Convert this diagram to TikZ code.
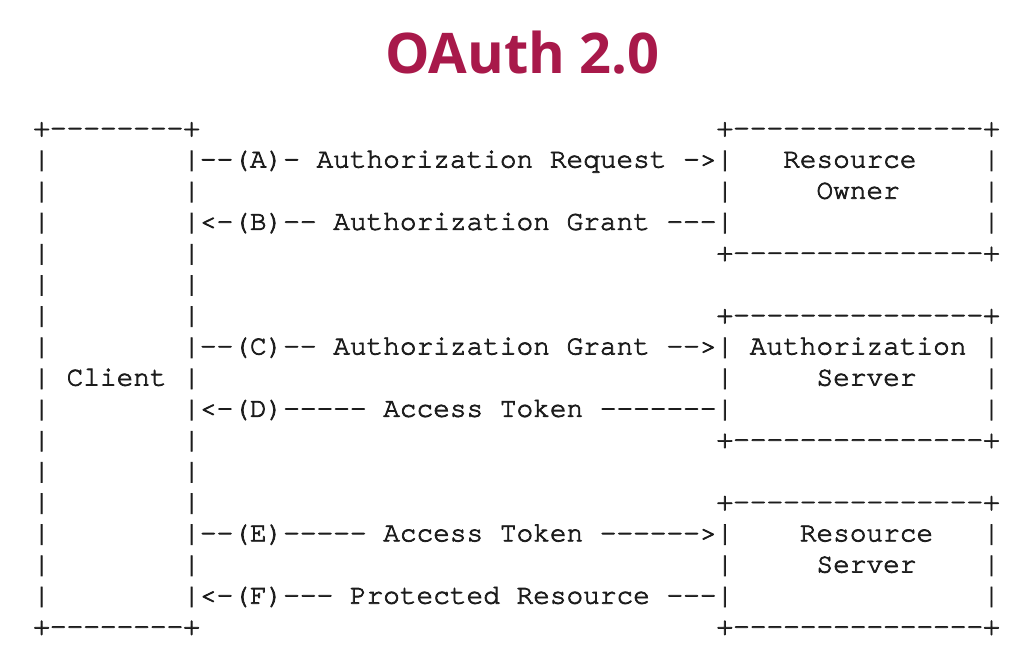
\documentclass[tikz,border=0pt]{standalone}
\usepackage{fontspec}
\newfontfamily\asciifont{texgyrecursor}[Extension=.otf, UprightFont=*-regular, BoldFont=*-bold, Ligatures=TeXOff, FakeBold=2.6]
\newfontfamily\titlefont{Open Sans}
\definecolor{oauthred}{HTML}{A8194A}
\definecolor{asciiink}{HTML}{1C1C1C}
\frenchspacing
% horizontal run of n blank character cells
\newcommand\gap[1]{\hskip#1\fontcharwd\font`\M\relax}
\tikzset{
  titletext/.style={anchor=base, inner sep=0pt, text=oauthred,
    font=\titlefont\bfseries\fontsize{42pt}{48pt}\selectfont},
  asciirow/.style={anchor=base west, inner sep=0pt, outer sep=0pt, text=asciiink,
    font=\asciifont\fontsize{20.83pt}{24pt}\selectfont},
}
\begin{document}
\begin{tikzpicture}[x=0.75pt,y=-0.75pt]
\useasboundingbox[fill=white] (0,0) rectangle (1033,644);
\node[titletext] (title) at (522.5,73) {OAuth 2.0};
% flow chart, one text row per line
\def\rowx{33.33}
\def\rowy{136.4}
\node[asciirow] (r0)  at (\rowx,{\rowy+31.15*0})  {+--------+\gap{31}+---------------+};
\node[asciirow] (r1)  at (\rowx,{\rowy+31.15*1})  {|\gap{8}|--(A)-\gap{1}Authorization\gap{1}Request\gap{1}->|\gap{3}Resource\gap{4}|};
\node[asciirow] (r2)  at (\rowx,{\rowy+31.15*2})  {|\gap{8}|\gap{31}|\gap{5}Owner\gap{5}|};
\node[asciirow] (r3)  at (\rowx,{\rowy+31.15*3})  {|\gap{8}|<-(B)--\gap{1}Authorization\gap{1}Grant\gap{1}---|\gap{15}|};
\node[asciirow] (r4)  at (\rowx,{\rowy+31.15*4})  {|\gap{8}|\gap{31}+---------------+};
\node[asciirow] (r5)  at (\rowx,{\rowy+31.15*5})  {|\gap{8}|};
\node[asciirow] (r6)  at (\rowx,{\rowy+31.15*6})  {|\gap{8}|\gap{31}+---------------+};
\node[asciirow] (r7)  at (\rowx,{\rowy+31.15*7})  {|\gap{8}|--(C)--\gap{1}Authorization\gap{1}Grant\gap{1}-->|\gap{1}Authorization\gap{1}|};
\node[asciirow] (r8)  at (\rowx,{\rowy+31.15*8})  {|\gap{1}Client\gap{1}|\gap{31}|\gap{5}Server\gap{4}|};
\node[asciirow] (r9)  at (\rowx,{\rowy+31.15*9})  {|\gap{8}|<-(D)-----\gap{1}Access\gap{1}Token\gap{1}-------|\gap{15}|};
\node[asciirow] (r10) at (\rowx,{\rowy+31.15*10}) {|\gap{8}|\gap{31}+---------------+};
\node[asciirow] (r11) at (\rowx,{\rowy+31.15*11}) {|\gap{8}|};
\node[asciirow] (r12) at (\rowx,{\rowy+31.15*12}) {|\gap{8}|\gap{31}+---------------+};
\node[asciirow] (r13) at (\rowx,{\rowy+31.15*13}) {|\gap{8}|--(E)-----\gap{1}Access\gap{1}Token\gap{1}------>|\gap{4}Resource\gap{3}|};
\node[asciirow] (r14) at (\rowx,{\rowy+31.15*14}) {|\gap{8}|\gap{31}|\gap{5}Server\gap{4}|};
\node[asciirow] (r15) at (\rowx,{\rowy+31.15*15}) {|\gap{8}|<-(F)---\gap{1}Protected\gap{1}Resource\gap{1}---|\gap{15}|};
\node[asciirow] (r16) at (\rowx,{\rowy+31.15*16}) {+--------+\gap{31}+---------------+};
\end{tikzpicture}
\end{document}
